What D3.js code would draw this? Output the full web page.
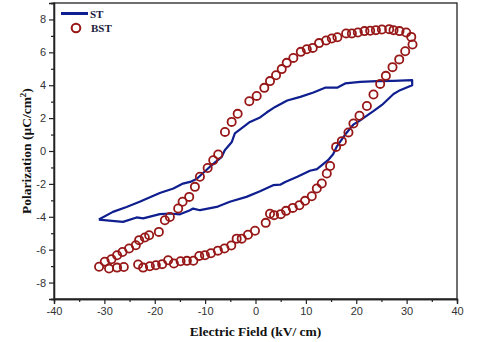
<!DOCTYPE html>
<html>
<head>
<meta charset="utf-8">
<script src="https://cdn.jsdelivr.net/npm/d3@7"></script>
<style>
  html, body { margin: 0; padding: 0; background: #fff; }
  svg { display: block; }
</style>
</head>
<body>
<div id="chart"></div>
<script>
// ST loop, traced in order (lower branch left->right, then upper branch back)
const stField = [-31.1, -28.5, -26.3, -23.6, -22.3, -19.0, -17.0, -15.0, -13.0, -12.4, -11.0, -7.7, -5.1, -1.8, 0.9, 3.5, 4.9, 5.9, 8.3, 10.8, 12.2, 14.4, 15.4, 16.2, 17.8, 19.4, 20.8, 21.4, 23.4, 25.1, 27.4, 28.7, 31.1,
  31.1, 27.4, 24.1, 20.8, 17.8, 16.2, 13.8, 11.5, 8.9, 6.3, 3.9, 2.2, 0.9, -1.1, -4.1, -4.7, -6.1, -6.7, -9.1, -11.7, -13.0, -14.4, -16.3, -19.0, -23.0, -25.6, -28.3, -31.1];
const stPol = [-4.17, -4.25, -4.31, -4.04, -4.1, -3.84, -3.8, -3.85, -3.6, -3.5, -3.6, -3.4, -3.09, -2.79, -2.45, -2.08, -2.05, -1.88, -1.57, -1.2, -1.1, -0.56, -0.2, 0.3, 1.0, 1.6, 1.87, 2.0, 2.42, 2.8, 3.47, 3.7, 4.0,
  4.31, 4.27, 4.25, 4.2, 4.11, 3.85, 3.85, 3.56, 3.29, 3.07, 2.68, 2.34, 2.04, 1.77, 1.07, 0.55, 0.05, -0.36, -0.97, -1.7, -1.88, -1.98, -2.28, -2.55, -3.09, -3.4, -3.7, -4.17];

// BST measured points
const bstField = [31.17, 30.92, 29.92, 28.59, 27.4, 26.54, 25.09, 23.9, 22.76, 21.63, 20.32, 19.13, 17.99, 16.26, 15.15, 14.02, 12.62, 11.37, 10.18, 8.99, 7.51, 6.2, 5.21, 4.08, 2.88, 1.75, 0.24, -1.23, -3.54, -4.73, -6.06,
  -7.4, -8.39, -9.5, -11.03, -12.03, -13.16, -14.47, -15.35, -17.0, -17.99, -19.18, -21.11, -21.97, -23.1, -23.76, -25.09, -26.4, -27.48, -28.59, -29.92, -31.05,
  -29.07, -27.48, -26.14,
  -23.3, -22.31, -20.97, -19.78, -18.53, -17.34, -16.2, -14.87, -13.62, -12.33, -11.17, -10.04, -8.85, -7.46, -6.16, -4.81, -3.74, -2.74, -1.49, -0.1, 2.03, 2.88, 3.68, 5.01, 6.06, 7.4, 8.71, 9.84, 11.17, 12.17, 13.16, 14.15, 14.81,
  16.0, 17.14, 18.45, 19.44, 20.64, 22.11, 23.42, 24.75, 25.88, 27.2, 28.53, 29.72];
const bstPol = [6.48, 6.94, 7.21, 7.29, 7.35, 7.41, 7.39, 7.35, 7.31, 7.29, 7.21, 7.15, 7.15, 6.92, 6.84, 6.72, 6.56, 6.27, 6.19, 6.03, 5.66, 5.36, 4.98, 4.61, 4.25, 3.84, 3.35, 3.03, 2.26, 1.77, 1.16,
  -0.21, -0.56, -1.03, -1.57, -2.18, -2.79, -3.09, -3.5, -4.01, -4.21, -4.92, -5.12, -5.26, -5.42, -5.73, -5.93, -6.14, -6.34, -6.58, -6.73, -7.04,
  -7.15, -7.09, -7.05,
  -6.9, -7.09, -7.01, -6.95, -6.88, -6.64, -6.84, -6.7, -6.68, -6.67, -6.38, -6.34, -6.22, -6.06, -5.93, -5.75, -5.33, -5.33, -5.09, -4.85, -4.37, -3.82, -3.9, -3.84, -3.64, -3.46, -3.3, -3.03, -2.75, -2.28, -1.98, -1.37, -0.91,
  0.25, 0.6, 1.13, 1.67, 2.14, 2.74, 3.44, 4.08, 4.57, 5.1, 5.57, 6.07];

const xTicks = [-40, -30, -20, -10, 0, 10, 20, 30, 40];
const xMinor = [-35, -25, -15, -5, 5, 15, 25, 35];
const yTicks = [-8, -6, -4, -2, 0, 2, 4, 6, 8];
const yMinor = [-9, -7, -5, -3, -1, 1, 3, 5, 7, 9];

const width = 480, height = 342;
const margin = { top: 3, right: 23, bottom: 43, left: 54 };
const stColor = '#0f1f8f';
const bstColor = '#971717';
const plain = d => String(d);   // hyphen minus, as in the original

const svg = d3.select('#chart').append('svg')
    .attr('width', width)
    .attr('height', height);

const x = d3.scaleLinear().domain([-40, 40]).range([margin.left, width - margin.right]);
const y = d3.scaleLinear().domain([-9, 9]).range([height - margin.bottom, margin.top]);

// frame
svg.append('rect')
    .attr('x', x(-40)).attr('y', y(9))
    .attr('width', x(40) - x(-40)).attr('height', y(-9) - y(9))
    .attr('fill', 'none').attr('stroke', '#222').attr('stroke-width', 1.3);

function styleAxis(g) {
    g.select('.domain').attr('stroke', '#222').attr('stroke-width', 1.3);
    g.selectAll('.tick line').attr('stroke', '#222').attr('stroke-width', 1.2);
    g.selectAll('.tick text')
        .attr('fill', '#333')
        .style('font-family', 'Arial, "Liberation Sans", sans-serif')
        .style('font-size', '11px');
}

svg.append('g')
    .attr('transform', `translate(0,${y(-9)})`)
    .call(d3.axisBottom(x).tickValues(xTicks).tickSize(5).tickPadding(3).tickFormat(plain))
    .call(styleAxis);
svg.append('g')
    .attr('transform', `translate(0,${y(-9)})`)
    .call(d3.axisBottom(x).tickValues(xMinor).tickSize(3).tickFormat(''))
    .call(styleAxis);

svg.append('g')
    .attr('transform', `translate(${x(-40)},0)`)
    .call(d3.axisLeft(y).tickValues(yTicks).tickSize(5).tickPadding(3).tickFormat(plain))
    .call(styleAxis);
svg.append('g')
    .attr('transform', `translate(${x(-40)},0)`)
    .call(d3.axisLeft(y).tickValues(yMinor).tickSize(3).tickFormat(''))
    .call(styleAxis);

// ST line
const stData = stField.map((e, i) => [e, stPol[i]]);
svg.append('path')
    .datum(stData)
    .attr('fill', 'none')
    .attr('stroke', stColor)
    .attr('stroke-width', 2.2)
    .attr('stroke-linejoin', 'round')
    .attr('d', d3.line().x(d => x(d[0])).y(d => y(d[1])));

// BST circles
const bstData = bstField.map((e, i) => [e, bstPol[i]]);
svg.append('g')
    .selectAll('circle')
    .data(bstData)
    .join('circle')
    .attr('cx', d => x(d[0]))
    .attr('cy', d => y(d[1]))
    .attr('r', 4.1)
    .attr('fill', 'none')
    .attr('stroke', bstColor)
    .attr('stroke-width', 1.8);

// legend
const legend = svg.append('g')
    .style('font-family', '"Times New Roman", "Liberation Serif", serif')
    .style('font-weight', 'bold')
    .style('font-size', '11px');
legend.append('line')
    .attr('x1', 61).attr('x2', 88).attr('y1', 13.5).attr('y2', 13.5)
    .attr('stroke', stColor).attr('stroke-width', 3);
legend.append('text').attr('x', 90).attr('y', 17.5).attr('fill', '#1a1a40').text('ST');
legend.append('circle')
    .attr('cx', 76).attr('cy', 28).attr('r', 4.3)
    .attr('fill', 'none').attr('stroke', bstColor).attr('stroke-width', 2);
legend.append('text').attr('x', 91).attr('y', 32).attr('fill', '#1a1a40').text('BST');

// axis titles
svg.append('text')
    .attr('x', (x(-40) + x(40)) / 2)
    .attr('y', 336)
    .attr('text-anchor', 'middle')
    .style('font-family', '"Times New Roman", "Liberation Serif", serif')
    .style('font-weight', 'bold')
    .style('font-size', '13.5px')
    .attr('fill', '#111')
    .text('Electric Field (kV/ cm)');

const ylab = svg.append('text')
    .attr('transform', `translate(31,${y(0)}) rotate(-90)`)
    .attr('text-anchor', 'middle')
    .style('font-family', '"Times New Roman", "Liberation Serif", serif')
    .style('font-weight', 'bold')
    .style('font-size', '13.5px')
    .attr('fill', '#111');
ylab.append('tspan').text('Polarization (μC/cm');
ylab.append('tspan').attr('dy', -5).style('font-size', '9px').text('2');
ylab.append('tspan').attr('dy', 5).text(')');
</script>
</body>
</html>
